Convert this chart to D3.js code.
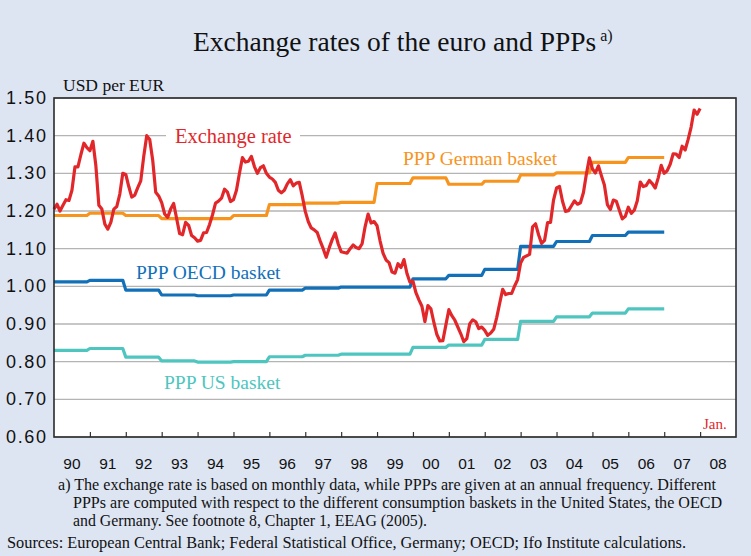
<!DOCTYPE html>
<html>
<head>
<meta charset="utf-8">
<script src="https://cdn.jsdelivr.net/npm/d3@7/dist/d3.min.js"></script>
<style>
    html, body { margin: 0; padding: 0; background: #dde5f3; }
    svg { display: block; }
    .serif { font-family: "Liberation Serif", "DejaVu Serif", serif; }
    .sans { font-family: "Liberation Sans", Arial, sans-serif; }
</style>
</head>
<body>
<script>

// monthly USD per EUR, Jan 1990 .. Jan 2008
const rateStart = 1990;
const usdPerEur = [
    1.205, 1.218, 1.200, 1.215, 1.230, 1.228, 1.255, 1.317, 1.317, 1.350, 1.380, 1.368, // 90
    1.360, 1.385, 1.320, 1.215, 1.205, 1.165, 1.152, 1.170, 1.205, 1.212, 1.245, 1.300, // 91
    1.297, 1.265, 1.237, 1.242, 1.262, 1.280, 1.345, 1.400, 1.390, 1.335, 1.250, 1.240, // 92
    1.222, 1.192, 1.183, 1.205, 1.220, 1.180, 1.140, 1.137, 1.170, 1.162, 1.135, 1.129, // 93
    1.120, 1.122, 1.142, 1.143, 1.164, 1.190, 1.221, 1.226, 1.234, 1.258, 1.250, 1.225, // 94
    1.230, 1.255, 1.300, 1.342, 1.330, 1.332, 1.345, 1.318, 1.300, 1.315, 1.320, 1.300, // 95
    1.290, 1.285, 1.276, 1.255, 1.248, 1.255, 1.272, 1.283, 1.267, 1.274, 1.276, 1.240, // 96
    1.199, 1.172, 1.155, 1.150, 1.143, 1.120, 1.100, 1.077, 1.102, 1.124, 1.142, 1.113, // 97
    1.092, 1.090, 1.088, 1.100, 1.110, 1.103, 1.100, 1.113, 1.158, 1.192, 1.168, 1.172, // 98
    1.161, 1.121, 1.088, 1.070, 1.063, 1.038, 1.035, 1.060, 1.050, 1.071, 1.034, 1.011, // 99
    1.014, 0.983, 0.964, 0.947, 0.906, 0.949, 0.940, 0.904, 0.872, 0.855, 0.856, 0.897, // 00
    0.938, 0.922, 0.910, 0.892, 0.874, 0.853, 0.861, 0.901, 0.911, 0.906, 0.888, 0.892, // 01
    0.883, 0.870, 0.876, 0.886, 0.917, 0.955, 0.992, 0.978, 0.981, 0.981, 1.001, 1.018, // 02
    1.062, 1.077, 1.081, 1.085, 1.158, 1.166, 1.137, 1.114, 1.122, 1.169, 1.170, 1.229, // 03
    1.261, 1.265, 1.226, 1.199, 1.201, 1.214, 1.227, 1.218, 1.222, 1.249, 1.299, 1.341, // 04
    1.312, 1.301, 1.320, 1.294, 1.269, 1.217, 1.204, 1.229, 1.226, 1.202, 1.179, 1.186, // 05
    1.210, 1.194, 1.202, 1.227, 1.277, 1.265, 1.268, 1.281, 1.273, 1.261, 1.288, 1.321, // 06
    1.300, 1.307, 1.324, 1.352, 1.351, 1.342, 1.372, 1.362, 1.390, 1.423, 1.468, 1.457, // 07
    1.472                                                                                // 08
];

// annual PPPs
const pppYears   = d3.range(1990, 2007);
const pppGerman  = [1.188, 1.194, 1.188, 1.180, 1.180, 1.188, 1.217, 1.221, 1.223, 1.273, 1.288, 1.271, 1.279, 1.296, 1.301, 1.329, 1.342];
const pppOecd    = [1.012, 1.016, 0.990, 0.977, 0.975, 0.977, 0.990, 0.995, 0.998, 0.998, 1.020, 1.029, 1.045, 1.106, 1.119, 1.135, 1.144];
const pppUs      = [0.830, 0.835, 0.812, 0.802, 0.799, 0.800, 0.813, 0.817, 0.820, 0.820, 0.838, 0.844, 0.859, 0.907, 0.919, 0.929, 0.940];

const yTicks = [0.6, 0.7, 0.8, 0.9, 1.0, 1.1, 1.2, 1.3, 1.4, 1.5];
const xYears = d3.range(1990, 2009);

const footnote = [
    "a) The exchange rate is based on monthly data, while PPPs are given at an annual frequency. Different",
    "PPPs are computed with respect to the different consumption baskets in the United States, the OECD",
    "and Germany. See footnote 8, Chapter 1, EEAG (2005)."
];
const footnoteWidths = [658, 649, 354];
const sources = "Sources: European Central Bank; Federal Statistical Office, Germany; OECD; Ifo Institute calculations.";

const colors = {
    rate: '#e2272b',
    german: '#f7941d',
    oecd: '#1270b8',
    us: '#4ec5bf'
};

const width = 751, height = 556;
const plot = {left: 54, right: 736, top: 98, bottom: 437};

const svg = d3.select("body").append("svg")
    .attr("width", width)
    .attr("height", height);

const x = d3.scaleLinear().domain([1990, 2009]).range([plot.left, plot.right]);
const y = d3.scaleLinear().domain([0.6, 1.5]).range([plot.bottom, plot.top]);

// title
const title = svg.append("text")
    .attr("class", "serif")
    .attr("x", 193)
    .attr("y", 51)
    .style("font-size", "27.5px")
    .style("fill", "#111");
title.append("tspan").text("Exchange rates of the euro and PPPs");
title.append("tspan")
    .attr("dx", 4)
    .attr("dy", -10)
    .style("font-size", "16px")
    .text("a)");

svg.append("text")
    .attr("class", "serif")
    .attr("x", 63)
    .attr("y", 91)
    .style("font-size", "17.5px")
    .style("fill", "#111")
    .text("USD per EUR");

// plot area
svg.append("rect")
    .attr("x", plot.left)
    .attr("y", plot.top)
    .attr("width", plot.right - plot.left)
    .attr("height", plot.bottom - plot.top)
    .style("fill", "#fff");

svg.append("g")
    .selectAll("line")
    .data(yTicks)
    .enter().append("line")
    .attr("x1", plot.left)
    .attr("x2", plot.right)
    .attr("y1", d => y(d))
    .attr("y2", d => y(d))
    .style("stroke", "#b4b4b4")
    .style("stroke-width", 1.4);

svg.append("g")
    .selectAll("text")
    .data(yTicks)
    .enter().append("text")
    .attr("class", "sans")
    .attr("x", 46)
    .attr("y", d => y(d) + 6)
    .attr("text-anchor", "end")
    .attr("textLength", 40)
    .attr("lengthAdjust", "spacing")
    .style("font-size", "18px")
    .style("fill", "#111")
    .text(d => d3.format(".2f")(d));

// x axis: ticks on year boundaries, labels mid-year
const xAxis = d3.axisBottom(x)
    .tickValues(d3.range(1991, 2009))
    .tickSize(-5)
    .tickFormat("");
svg.append("g")
    .attr("transform", "translate(0," + plot.bottom + ")")
    .call(xAxis)
    .call(g => g.select(".domain").remove())
    .call(g => g.selectAll(".tick line").style("stroke", "#333").style("stroke-width", 1.2));

svg.append("g")
    .selectAll("text")
    .data(xYears)
    .enter().append("text")
    .attr("class", "sans")
    .attr("x", d => x(d + 0.5))
    .attr("y", 469)
    .attr("text-anchor", "middle")
    .style("font-size", "15.5px")
    .style("fill", "#111")
    .text(d => String(d).slice(2));

// label for exchange rate sits on the 1.40 grid line
const rateLabel = svg.append("g");
rateLabel.append("rect")
    .attr("x", 166)
    .attr("y", y(1.4) - 10)
    .attr("width", 134)
    .attr("height", 20)
    .style("fill", "#fff");
rateLabel.append("text")
    .attr("class", "serif")
    .attr("x", 175)
    .attr("y", y(1.4) + 7)
    .style("font-size", "20.5px")
    .style("fill", colors.rate)
    .text("Exchange rate");

// PPP step lines
function stepPoints(values){
    let pts = [];
    values.forEach((v, i) => {
        const yr = pppYears[i];
        pts.push([yr, v]);
        pts.push([i === values.length - 1 ? yr + 1 : yr + 11 / 12, v]);
    });
    return pts;
}

const line = d3.line()
    .x(d => x(d[0]))
    .y(d => y(d[1]));

const pppSeries = [
    {values: pppGerman, color: colors.german},
    {values: pppOecd, color: colors.oecd},
    {values: pppUs, color: colors.us}
];

svg.append("g")
    .selectAll("path")
    .data(pppSeries)
    .enter().append("path")
    .attr("d", d => line(stepPoints(d.values)))
    .style("fill", "none")
    .style("stroke", d => d.color)
    .style("stroke-width", 3.2)
    .style("stroke-linejoin", "round");

// exchange rate
const ratePoints = usdPerEur.map((v, i) => [rateStart + i / 12, v]);
svg.append("path")
    .attr("d", line(ratePoints))
    .style("fill", "none")
    .style("stroke", colors.rate)
    .style("stroke-width", 3.2)
    .style("stroke-linejoin", "round");

// series labels
const labels = [
    {text: "PPP German basket", x: 403, y: 165, color: colors.german},
    {text: "PPP OECD basket", x: 136, y: 279, color: colors.oecd},
    {text: "PPP US basket", x: 164, y: 389, color: colors.us}
];
svg.append("g")
    .selectAll("text")
    .data(labels)
    .enter().append("text")
    .attr("class", "serif")
    .attr("x", d => d.x)
    .attr("y", d => d.y)
    .style("font-size", "19.5px")
    .style("fill", d => d.color)
    .text(d => d.text);

svg.append("text")
    .attr("class", "serif")
    .attr("x", 703)
    .attr("y", 429)
    .style("font-size", "15px")
    .style("fill", colors.rate)
    .text("Jan.");

// frame
svg.append("rect")
    .attr("x", plot.left)
    .attr("y", plot.top)
    .attr("width", plot.right - plot.left)
    .attr("height", plot.bottom - plot.top)
    .style("fill", "none")
    .style("stroke", "#2b2b2b")
    .style("stroke-width", 1.6);

// notes
svg.append("g")
    .selectAll("text")
    .data(footnote)
    .enter().append("text")
    .attr("class", "serif")
    .attr("x", (d, i) => i === 0 ? 58 : 73)
    .attr("y", (d, i) => 490 + i * 18)
    .attr("textLength", (d, i) => footnoteWidths[i])
    .attr("lengthAdjust", "spacingAndGlyphs")
    .style("font-size", "16px")
    .style("fill", "#111")
    .text(d => d);

svg.append("text")
    .attr("class", "serif")
    .attr("x", 7)
    .attr("y", 548)
    .attr("textLength", 679)
    .attr("lengthAdjust", "spacingAndGlyphs")
    .style("font-size", "16px")
    .style("fill", "#111")
    .text(sources);

</script>
</body>
</html>
